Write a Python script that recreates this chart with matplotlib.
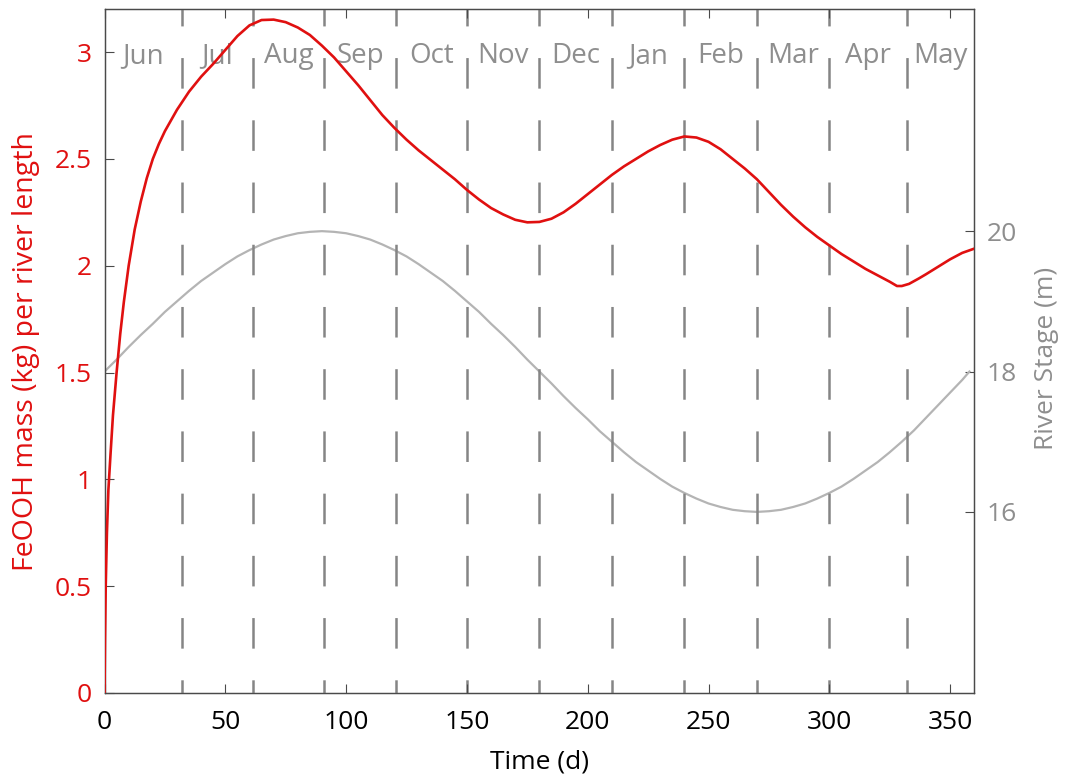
import matplotlib.pyplot as plt
from matplotlib.ticker import FormatStrFormatter

plt.rcParams['font.family'] = ['Open Sans', 'DejaVu Sans']
plt.rcParams['lines.scale_dashes'] = False

# FeOOH mass per river length (kg) against time (d)
t_fe = [0, 0.2, 0.5, 1, 1.6, 2.5, 3.5, 5, 6.5, 8, 10, 12.5, 15, 17.5, 20, 22.5, 25,
        27.5, 30, 35, 40, 45, 50, 55, 60, 65, 70, 75, 80, 85, 90, 95, 100, 105, 110,
        115, 120, 125, 130, 135, 140, 145, 150, 155, 160, 165, 170, 175, 180, 185,
        190, 195, 200, 205, 210, 215, 220, 225, 230, 235, 240, 245, 250, 255, 260,
        265, 270, 275, 280, 285, 290, 295, 300, 305, 310, 315, 320, 325, 328, 330,
        333, 337, 340, 345, 350, 355, 360]
fe_mass = [0, 0.25, 0.5, 0.75, 0.95, 1.12, 1.3, 1.5, 1.68, 1.83, 2.0, 2.17, 2.3, 2.41,
           2.5, 2.57, 2.63, 2.68, 2.73, 2.815, 2.885, 2.945, 3.01, 3.075, 3.125, 3.15,
           3.152, 3.14, 3.115, 3.08, 3.03, 2.975, 2.91, 2.845, 2.775, 2.705, 2.645,
           2.59, 2.54, 2.495, 2.45, 2.405, 2.355, 2.31, 2.27, 2.24, 2.215, 2.203,
           2.205, 2.22, 2.25, 2.29, 2.335, 2.38, 2.425, 2.465, 2.5, 2.535, 2.565, 2.59,
           2.605, 2.60, 2.58, 2.545, 2.5, 2.455, 2.405, 2.345, 2.285, 2.23, 2.18,
           2.135, 2.095, 2.055, 2.02, 1.985, 1.955, 1.925, 1.905, 1.905, 1.915, 1.94,
           1.96, 1.995, 2.03, 2.06, 2.08]

# river stage (m)
t_stage = list(range(0, 360, 5)) + [358]
stage = [18.00, 18.17, 18.35, 18.52, 18.68, 18.85, 19.00, 19.15, 19.29, 19.41, 19.53,
         19.64, 19.73, 19.81, 19.88, 19.93, 19.97, 19.99, 20.00, 19.99, 19.97, 19.93,
         19.88, 19.81, 19.73, 19.64, 19.53, 19.41, 19.29, 19.15, 19.00, 18.85, 18.68,
         18.52, 18.35, 18.17, 18.00, 17.83, 17.65, 17.48, 17.32, 17.15, 17.00, 16.85,
         16.71, 16.59, 16.47, 16.36, 16.27, 16.19, 16.12, 16.07, 16.03, 16.01, 16.00,
         16.01, 16.03, 16.07, 16.12, 16.19, 16.27, 16.36, 16.47, 16.59, 16.71, 16.85,
         17.00, 17.16, 17.34, 17.52, 17.70, 17.88, 18.00]

month_edges = [0, 32, 61.5, 91, 120.5, 150, 180, 210, 240, 270, 300, 332, 360]
months = ['Jun', 'Jul', 'Aug', 'Sep', 'Oct', 'Nov', 'Dec', 'Jan', 'Feb', 'Mar',
          'Apr', 'May']

red = '#e01010'
grey_txt = '#8e8e8e'
axis_col = '#4a4a4a'
fs = 19

fig = plt.figure(figsize=(10.73, 7.79), dpi=100)
ax = fig.add_axes([0.0974, 0.1104, 0.8106, 0.8776])
ax2 = ax.twinx()
ax.set_zorder(ax2.get_zorder() + 1)
ax.patch.set_visible(False)

ax2.plot(t_stage, stage, color='#b4b4b4', lw=1.6)
ax2.set_ylim(13.42, 23.16)
ax2.set_yticks([16, 18, 20])
ax2.tick_params(axis='y', direction='in', length=6.5, width=0.8, color=axis_col,
                labelcolor=grey_txt, labelsize=fs, pad=9)
ax2.set_ylabel('River Stage (m)', color=grey_txt, fontsize=fs)
ax2.yaxis.set_label_coords(1.069, 0.49)

# month boundaries
for x in month_edges[1:-1]:
    ax.axvline(x, color='#858585', lw=1.8, linestyle=(12.5, (22, 22.8)), zorder=1)

for i, m in enumerate(months):
    ax.text((month_edges[i] + month_edges[i + 1]) / 2, 2.95, m, ha='center',
            va='baseline', color=grey_txt, fontsize=20, zorder=2)

ax.plot(t_fe, fe_mass, color=red, lw=1.9, zorder=3)
ax.set_xlim(0, 360)
ax.set_ylim(0, 3.2)
ax.set_xticks(range(0, 351, 50))
ax.set_yticks([0, 0.5, 1, 1.5, 2, 2.5, 3])
ax.yaxis.set_major_formatter(FormatStrFormatter('%g'))
ax.tick_params(axis='x', direction='in', length=6.5, width=0.8, color=axis_col,
               labelsize=fs, pad=12, top=True)
ax.tick_params(axis='y', direction='in', length=6.5, width=0.8, color=axis_col,
               labelcolor=red, labelsize=fs, pad=9)
ax.set_xlabel('Time (d)', fontsize=fs)
ax.xaxis.set_label_coords(0.5, -0.082)
ax.set_ylabel('FeOOH mass (kg) per river length', color=red, fontsize=20.5)
ax.yaxis.set_label_coords(-0.074, 0.5)

for a in (ax, ax2):
    for s in a.spines.values():
        s.set_color(axis_col)
        s.set_linewidth(0.9)

fig.savefig('out.png', dpi=100)
